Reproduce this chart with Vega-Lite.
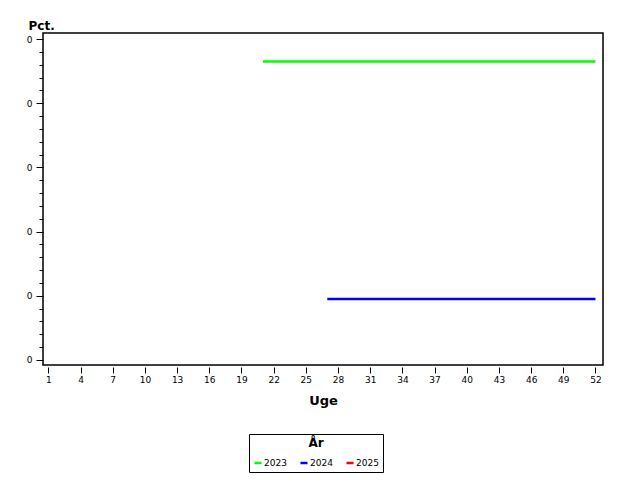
{
  "$schema": "https://vega.github.io/schema/vega-lite/v6.json",
  "autosize": "none",
  "width": 560,
  "height": 332,
  "padding": {"left": 43, "top": 33, "right": 37, "bottom": 115},
  "background": "white",
  "config": {
    "view": {"stroke": "black", "strokeWidth": 1.5},
    "font": "DejaVu Sans",
    "axis": {
      "domain": false,
      "grid": false,
      "tickColor": "black",
      "labelColor": "black",
      "labelFont": "DejaVu Sans",
      "labelFontSize": 9,
      "labelOverlap": false,
      "titleFont": "DejaVu Sans",
      "titleFontWeight": "bold",
      "titleFontSize": 13,
      "titleColor": "black"
    }
  },
  "data": {
    "values": [
      {"week": 21, "year": "2023", "pct": 0.0465},
      {"week": 22, "year": "2023", "pct": 0.0465},
      {"week": 23, "year": "2023", "pct": 0.0465},
      {"week": 24, "year": "2023", "pct": 0.0465},
      {"week": 25, "year": "2023", "pct": 0.0465},
      {"week": 26, "year": "2023", "pct": 0.0465},
      {"week": 27, "year": "2023", "pct": 0.0465},
      {"week": 28, "year": "2023", "pct": 0.0465},
      {"week": 29, "year": "2023", "pct": 0.0465},
      {"week": 30, "year": "2023", "pct": 0.0465},
      {"week": 31, "year": "2023", "pct": 0.0465},
      {"week": 32, "year": "2023", "pct": 0.0465},
      {"week": 33, "year": "2023", "pct": 0.0465},
      {"week": 34, "year": "2023", "pct": 0.0465},
      {"week": 35, "year": "2023", "pct": 0.0465},
      {"week": 36, "year": "2023", "pct": 0.0465},
      {"week": 37, "year": "2023", "pct": 0.0465},
      {"week": 38, "year": "2023", "pct": 0.0465},
      {"week": 39, "year": "2023", "pct": 0.0465},
      {"week": 40, "year": "2023", "pct": 0.0465},
      {"week": 41, "year": "2023", "pct": 0.0465},
      {"week": 42, "year": "2023", "pct": 0.0465},
      {"week": 43, "year": "2023", "pct": 0.0465},
      {"week": 44, "year": "2023", "pct": 0.0465},
      {"week": 45, "year": "2023", "pct": 0.0465},
      {"week": 46, "year": "2023", "pct": 0.0465},
      {"week": 47, "year": "2023", "pct": 0.0465},
      {"week": 48, "year": "2023", "pct": 0.0465},
      {"week": 49, "year": "2023", "pct": 0.0465},
      {"week": 50, "year": "2023", "pct": 0.0465},
      {"week": 51, "year": "2023", "pct": 0.0465},
      {"week": 52, "year": "2023", "pct": 0.0465},
      {"week": 27, "year": "2024", "pct": 0.0095},
      {"week": 28, "year": "2024", "pct": 0.0095},
      {"week": 29, "year": "2024", "pct": 0.0095},
      {"week": 30, "year": "2024", "pct": 0.0095},
      {"week": 31, "year": "2024", "pct": 0.0095},
      {"week": 32, "year": "2024", "pct": 0.0095},
      {"week": 33, "year": "2024", "pct": 0.0095},
      {"week": 34, "year": "2024", "pct": 0.0095},
      {"week": 35, "year": "2024", "pct": 0.0095},
      {"week": 36, "year": "2024", "pct": 0.0095},
      {"week": 37, "year": "2024", "pct": 0.0095},
      {"week": 38, "year": "2024", "pct": 0.0095},
      {"week": 39, "year": "2024", "pct": 0.0095},
      {"week": 40, "year": "2024", "pct": 0.0095},
      {"week": 41, "year": "2024", "pct": 0.0095},
      {"week": 42, "year": "2024", "pct": 0.0095},
      {"week": 43, "year": "2024", "pct": 0.0095},
      {"week": 44, "year": "2024", "pct": 0.0095},
      {"week": 45, "year": "2024", "pct": 0.0095},
      {"week": 46, "year": "2024", "pct": 0.0095},
      {"week": 47, "year": "2024", "pct": 0.0095},
      {"week": 48, "year": "2024", "pct": 0.0095},
      {"week": 49, "year": "2024", "pct": 0.0095},
      {"week": 50, "year": "2024", "pct": 0.0095},
      {"week": 51, "year": "2024", "pct": 0.0095},
      {"week": 52, "year": "2024", "pct": 0.0095}
    ]
  },
  "resolve": {"axis": {"y": "independent"}},
  "layer": [
    {
      "mark": {"type": "line", "strokeWidth": 2.5, "strokeCap": "butt"},
      "encoding": {
        "x": {
          "field": "week",
          "type": "quantitative",
          "scale": {"domain": [0.5, 52.7], "nice": false, "zero": false},
          "axis": {
            "title": "Uge",
            "values": [1, 4, 7, 10, 13, 16, 19, 22, 25, 28, 31, 34, 37, 40, 43, 46, 49, 52],
            "tickCount": 60,
            "tickSize": 6,
            "offset": 2,
            "labelPadding": 2,
            "titlePadding": 10
          }
        },
        "y": {
          "field": "pct",
          "type": "quantitative",
          "scale": {"domain": [-0.00078, 0.05094], "nice": false, "zero": false},
          "axis": {
            "title": "Pct.",
            "values": [0, 0.01, 0.02, 0.03, 0.04, 0.05],
            "tickCount": 10,
            "format": ".0f",
            "tickSize": 7,
            "labelPadding": 4,
            "titleAngle": 0,
            "titleAlign": "left",
            "titleBaseline": "bottom",
            "titleX": -15,
            "titleY": -1,
            "titleFontSize": 12
          }
        },
        "color": {
          "field": "year",
          "type": "nominal",
          "scale": {"domain": ["2023", "2024", "2025"], "range": ["#00ff00", "#0000ff", "#ff0000"]},
          "legend": {
            "title": "År",
            "orient": "none",
            "legendX": 206,
            "legendY": 401,
            "direction": "horizontal",
            "strokeColor": "black",
            "fillColor": "white",
            "padding": 4,
            "titleAnchor": "middle",
            "titleAlign": "center",
            "titleFontSize": 12,
            "titleFontWeight": "bold",
            "titleColor": "black",
            "titleFont": "DejaVu Sans",
            "titlePadding": 8,
            "labelFontSize": 9,
            "labelColor": "black",
            "labelFont": "DejaVu Sans",
            "symbolType": "stroke",
            "symbolStrokeWidth": 2.5,
            "symbolSize": 50,
            "labelOffset": 1,
            "columnPadding": 8,
            "offset": 0
          }
        }
      }
    },
    {
      "mark": {"type": "line", "opacity": 0},
      "encoding": {
        "x": {"field": "week", "type": "quantitative"},
        "y": {
          "field": "pct",
          "type": "quantitative",
          "axis": {
            "orient": "left",
            "title": null,
            "labels": false,
            "values": [0.002, 0.004, 0.006, 0.008, 0.012, 0.014, 0.016, 0.018, 0.022, 0.024, 0.026, 0.028, 0.032, 0.034, 0.036, 0.038, 0.042, 0.044, 0.046, 0.048],
            "tickCount": 60,
            "tickSize": 4
          }
        }
      }
    }
  ]
}
